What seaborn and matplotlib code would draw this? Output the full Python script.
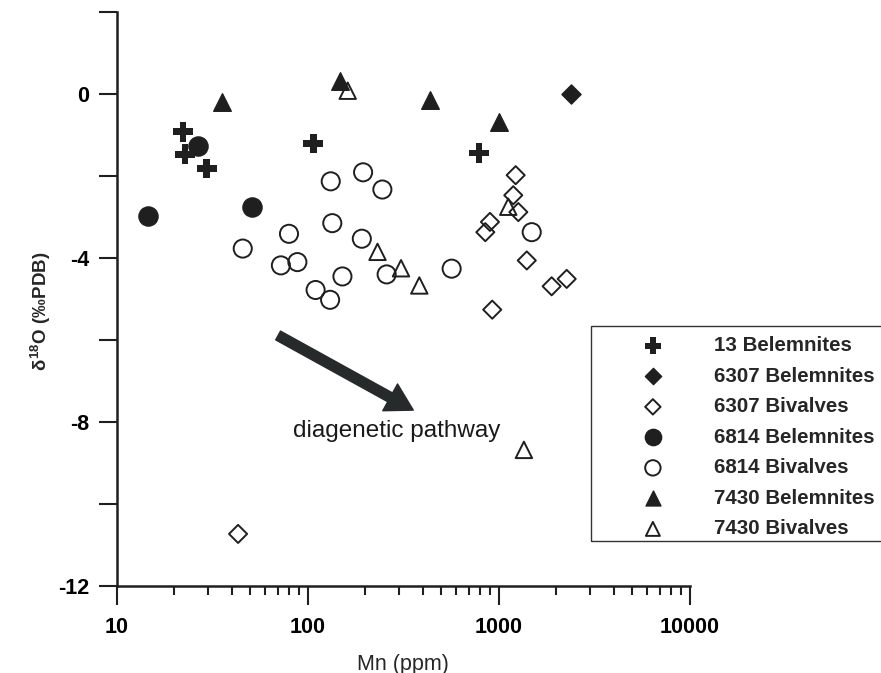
import numpy as np
import pandas as pd
import matplotlib
matplotlib.use("Agg")
import matplotlib.pyplot as plt
import seaborn as sns
from matplotlib.patches import Rectangle
from matplotlib.ticker import FixedLocator, FixedFormatter, NullFormatter

# ---------------- data ----------------
groups = ["13 Belemnites", "6307 Belemnites", "6307 Bivalves",
          "6814 Belemnites", "6814 Bivalves", "7430 Belemnites", "7430 Bivalves"]

b13_mn = [22.2, 22.8, 29.6, 107, 789]
b13_d18o = [-0.92, -1.47, -1.82, -1.21, -1.44]

b6307_mn = [2383]
b6307_d18o = [0.0]

v6307_mn = [1227, 1192, 1267, 900, 851, 1403, 2270, 1893, 925, 43.2]
v6307_d18o = [-1.98, -2.47, -2.88, -3.12, -3.37, -4.06, -4.51, -4.69, -5.26, -10.73]

b6814_mn = [14.6, 26.7, 50.9]
b6814_d18o = [-2.98, -1.27, -2.76]

v6814_mn = [132, 195, 246, 134.5, 79.8, 192, 45.7, 72.4, 88.3, 152, 259, 110, 131, 567, 1489]
v6814_d18o = [-2.13, -1.91, -2.33, -3.15, -3.41, -3.53, -3.77, -4.18, -4.10, -4.45, -4.40,
              -4.78, -5.02, -4.26, -3.37]

b7430_mn = [35.5, 147.6, 436, 1004]
b7430_d18o = [-0.19, 0.32, -0.15, -0.68]

v7430_mn = [162, 232, 308, 384, 1122, 1355]
v7430_d18o = [0.08, -3.85, -4.25, -4.67, -2.75, -8.68]

x_ticks = [10, 100, 1000, 10000]
x_ticklabels = ["10", "100", "1000", "10000"]
y_ticks = [0, -4, -8, -12]
y_ticklabels = ["0", "-4", "-8", "-12"]
y_minor = [2, -2, -6, -10]

mn_lists = [b13_mn, b6307_mn, v6307_mn, b6814_mn, v6814_mn, b7430_mn, v7430_mn]
d_lists = [b13_d18o, b6307_d18o, v6307_d18o, b6814_d18o, v6814_d18o, b7430_d18o, v7430_d18o]

df = pd.concat([pd.DataFrame({"Mn": m, "d18O": d, "group": g})
                for g, m, d in zip(groups, mn_lists, d_lists)], ignore_index=True)

# ---------------- style ----------------
sns.set_style("ticks")
plt.rcParams["axes.unicode_minus"] = False
plt.rcParams["font.family"] = ["Liberation Sans", "DejaVu Sans"]
plt.rcParams["mathtext.fontset"] = "custom"
plt.rcParams["mathtext.rm"] = "Liberation Sans:bold"
plt.rcParams["mathtext.bf"] = "Liberation Sans:bold"
plt.rcParams["mathtext.it"] = "Liberation Sans:bold"

ink = "#1f1f1f"
styles = {
    "13 Belemnites":   dict(marker="P", s=200, facecolor=ink, edgecolor="none", linewidth=0),
    "6307 Belemnites": dict(marker="D", s=95, facecolor=ink, edgecolor=ink, linewidth=1.0),
    "6307 Bivalves":   dict(marker="D", s=85, facecolor="none", edgecolor=ink, linewidth=1.4),
    "6814 Belemnites": dict(marker="o", s=190, facecolor=ink, edgecolor=ink, linewidth=1.0),
    "6814 Bivalves":   dict(marker="o", s=170, facecolor="none", edgecolor=ink, linewidth=1.4),
    "7430 Belemnites": dict(marker="^", s=160, facecolor=ink, edgecolor=ink, linewidth=1.0),
    "7430 Bivalves":   dict(marker="^", s=140, facecolor="none", edgecolor=ink, linewidth=1.4),
}

fig = plt.figure(figsize=(8.81, 6.73), dpi=100)
ax = fig.add_axes([116.7 / 881, 1 - 586 / 673, (689.7 - 116.7) / 881, (586 - 12) / 673])

for g in groups:
    sub = df[df["group"] == g]
    sns.scatterplot(data=sub, x="Mn", y="d18O", label=g, ax=ax, zorder=3, **styles[g])

ax.set_xscale("log")
ax.set_xlim(10, 10000)
ax.set_ylim(-12, 2)

ax.xaxis.set_major_locator(FixedLocator(x_ticks))
ax.xaxis.set_major_formatter(FixedFormatter(x_ticklabels))
ax.xaxis.set_minor_locator(FixedLocator([d * k for d in [10, 100, 1000] for k in range(2, 10)]))
ax.xaxis.set_minor_formatter(NullFormatter())
ax.yaxis.set_major_locator(FixedLocator(y_ticks))
ax.yaxis.set_major_formatter(FixedFormatter(y_ticklabels))
ax.yaxis.set_minor_locator(FixedLocator(y_minor))
ax.yaxis.set_minor_formatter(NullFormatter())

for sp in ["top", "right"]:
    ax.spines[sp].set_visible(False)
for sp in ["left", "bottom"]:
    ax.spines[sp].set_linewidth(1.8)
    ax.spines[sp].set_color(ink)

ax.tick_params(axis="x", which="major", length=13.5, width=1.5, color=ink, pad=9,
               labelsize=15.5, labelcolor="black")
ax.tick_params(axis="x", which="minor", length=6.5, width=1.5, color=ink)
ax.tick_params(axis="y", which="both", length=13, width=1.5, color=ink, pad=7,
               labelsize=15.5, labelcolor="black")
for lab in ax.get_xticklabels() + ax.get_yticklabels():
    lab.set_fontweight("bold")

ax.set_xlabel("Mn (ppm)", fontsize=15.5, labelpad=11)
ax.set_ylabel(r"$\delta^{18}$O (‰PDB)", fontsize=13.5, fontweight="bold")
ax.yaxis.set_label_coords(-0.112, 0.479)

# diagenetic pathway arrow
ax.annotate("", xy=(357, -7.71), xytext=(70, -5.89),
            arrowprops=dict(arrowstyle="simple,head_length=0.95,head_width=1.1,tail_width=0.36",
                            mutation_scale=20, color="#262a2b", shrinkA=0, shrinkB=0))
ax.text(293.5, -8.21, "diagenetic pathway", fontsize=17.5, ha="center", va="center",
        color="#1a1a1a")

leg = ax.legend(loc="upper left", bbox_to_anchor=(590.7 / 881, 1 - 328 / 673),
                bbox_transform=fig.transFigure, borderaxespad=0, frameon=False,
                prop=dict(family="Liberation Sans", weight="bold", size=14.8),
                handlelength=5.25, handletextpad=0.36, borderpad=0.4, labelspacing=0.56,
                scatterpoints=1, markerscale=0.85)

# legend frame, running past the right edge of the figure as in the reference
fig.patches.append(Rectangle((590.7 / 881, 1 - 541 / 673), 0.5, (541 - 326) / 673,
                             transform=fig.transFigure, fill=False,
                             edgecolor="#333333", linewidth=1.0, zorder=5))

fig.savefig("out.png", dpi=100, facecolor="white")
